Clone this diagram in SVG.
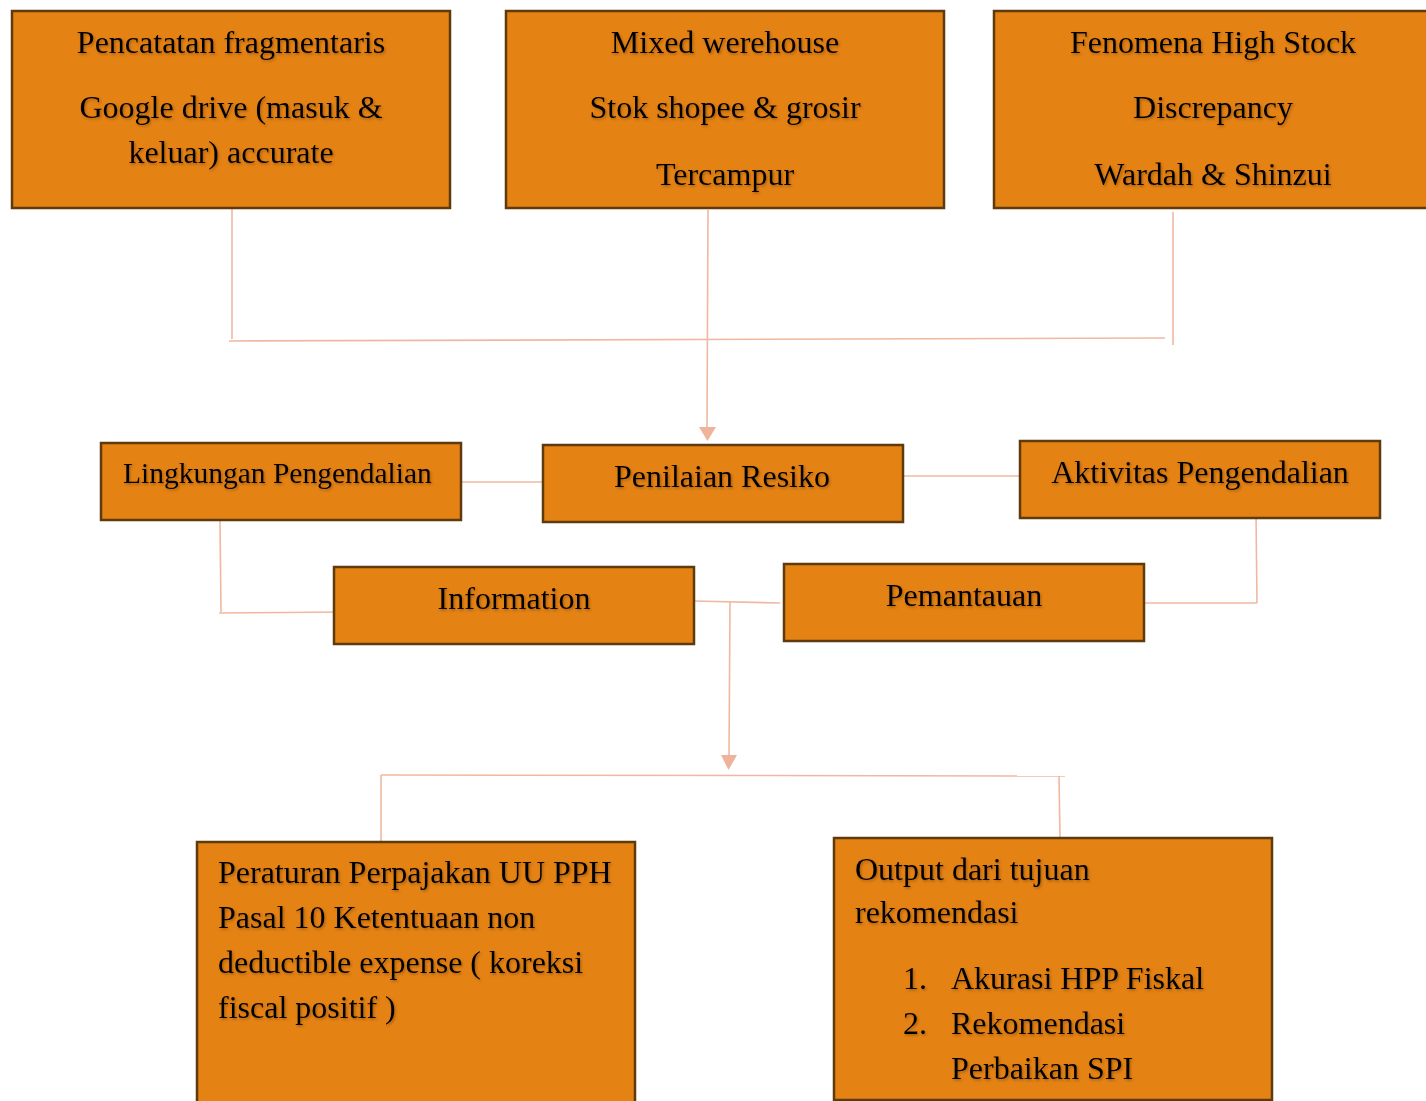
<svg xmlns="http://www.w3.org/2000/svg" width="1426" height="1101" viewBox="0 0 1426 1101">
<defs>
<style>
.box{fill:#E48214;stroke:#5E3A0C;stroke-width:2.5}
.t{font-family:"Liberation Serif","Times New Roman",serif;font-size:32px;fill:#000;filter:url(#sh)}
.c{text-anchor:middle}
.ln{stroke:#F0B8A0;stroke-width:1.6;fill:none}
</style>
<filter id="sh" x="-5%" y="-20%" width="110%" height="150%">
<feDropShadow dx="1.2" dy="1.5" stdDeviation="1" flood-color="#5a3000" flood-opacity="0.45"/>
</filter>
</defs>
<rect width="1426" height="1101" fill="#fff"/>
<g id="connectors">
<line class="ln" x1="232" y1="208" x2="232" y2="339"/>
<line class="ln" x1="229" y1="341" x2="1165" y2="338"/>
<line class="ln" x1="1173" y1="212" x2="1173" y2="345"/>
<path class="ln" d="M708,210 L707,427"/>
<path d="M699,427 L716,427 L707.5,441 Z" fill="#EFB39A"/>
<line class="ln" x1="461" y1="482" x2="543" y2="482"/>
<line class="ln" x1="903" y1="476" x2="1020" y2="476"/>
<path class="ln" d="M220,520 L221,612"/>
<line class="ln" x1="219" y1="613" x2="342" y2="612"/>
<path class="ln" d="M1256,514 L1257,603"/>
<line class="ln" x1="1145" y1="603" x2="1257" y2="603"/>
<line class="ln" x1="694" y1="601" x2="780" y2="603"/>
<path class="ln" d="M730,602 L729,756"/>
<path d="M721,755 L737,755 L728.5,770 Z" fill="#EFB39A"/>
<line class="ln" x1="381" y1="775" x2="1065" y2="776"/>
<line class="ln" x1="381" y1="775" x2="381" y2="841"/>
<line class="ln" x1="1059" y1="776" x2="1060" y2="838"/>
</g>
<g id="n1">
<rect class="box" x="12" y="11" width="438" height="197"/>
<text class="t c" x="231" y="53">Pencatatan fragmentaris</text>
<text class="t c" x="231" y="118">Google drive (masuk &amp;</text>
<text class="t c" x="231" y="163">keluar) accurate</text>
</g>
<g id="n2">
<rect class="box" x="506" y="11" width="438" height="197"/>
<text class="t c" x="725" y="53">Mixed werehouse</text>
<text class="t c" x="725" y="118">Stok shopee &amp; grosir</text>
<text class="t c" x="725" y="185">Tercampur</text>
</g>
<g id="n3">
<rect class="box" x="994" y="11" width="440" height="197"/>
<text class="t c" x="1213" y="53">Fenomena High Stock</text>
<text class="t c" x="1213" y="118">Discrepancy</text>
<text class="t c" x="1213" y="185">Wardah &amp; Shinzui</text>
</g>
<g id="n4">
<rect class="box" x="101" y="443" width="360" height="77"/>
<text class="t" x="123" y="483" style="font-size:29.5px">Lingkungan Pengendalian</text>
</g>
<g id="n5">
<rect class="box" x="543" y="445" width="360" height="77"/>
<text class="t c" x="722" y="487">Penilaian Resiko</text>
</g>
<g id="n6">
<rect class="box" x="1020" y="441" width="360" height="77"/>
<text class="t c" x="1200" y="483">Aktivitas Pengendalian</text>
</g>
<g id="n7">
<rect class="box" x="334" y="567" width="360" height="77"/>
<text class="t c" x="514" y="609">Information</text>
</g>
<g id="n8">
<rect class="box" x="784" y="564" width="360" height="77"/>
<text class="t c" x="964" y="606">Pemantauan</text>
</g>
<g id="n9">
<rect class="box" x="197" y="842" width="438" height="270"/>
<text class="t" x="218" y="883">Peraturan Perpajakan UU PPH</text>
<text class="t" x="218" y="928">Pasal 10 Ketentuaan non</text>
<text class="t" x="218" y="973">deductible expense ( koreksi</text>
<text class="t" x="218" y="1018">fiscal positif )</text>
</g>
<g id="n10">
<rect class="box" x="834" y="838" width="438" height="262"/>
<text class="t" x="855" y="880">Output dari tujuan</text>
<text class="t" x="855" y="923">rekomendasi</text>
<text class="t" x="903" y="989">1.</text>
<text class="t" x="951" y="989">Akurasi HPP Fiskal</text>
<text class="t" x="903" y="1034">2.</text>
<text class="t" x="951" y="1034">Rekomendasi</text>
<text class="t" x="951" y="1079">Perbaikan SPI</text>
</g>
</svg>
